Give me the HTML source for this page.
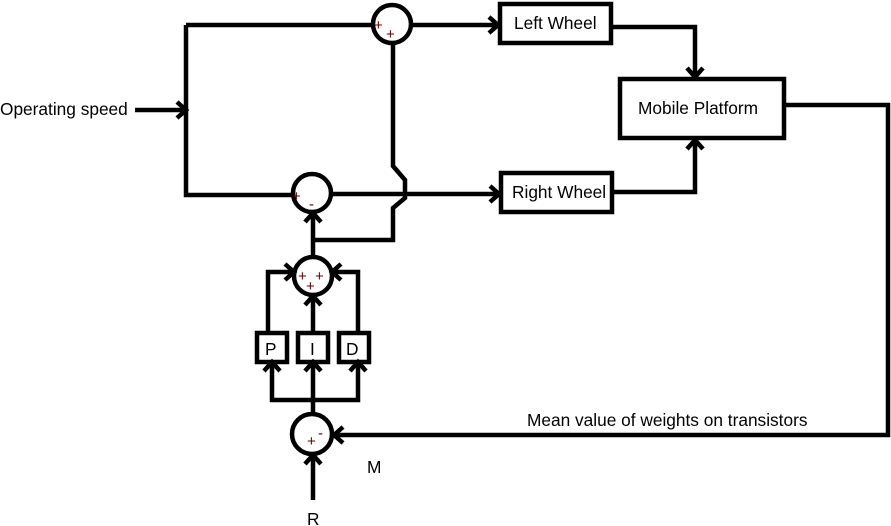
<!DOCTYPE html>
<html><head><style>body{margin:0;background:#fff}svg{display:block}text{font-family:"Liberation Sans",sans-serif}</style></head><body>
<svg width="891" height="526" viewBox="0 0 891 526" xmlns="http://www.w3.org/2000/svg">
<g fill="none" stroke="#000" stroke-width="4.5" stroke-linejoin="miter">
<rect x="500" y="4" width="111" height="39"/>
<rect x="501" y="173" width="111" height="39"/>
<rect x="620" y="79" width="164" height="59"/>
<rect x="257" y="333" width="30" height="29"/>
<rect x="298" y="333" width="30" height="29"/>
<rect x="339" y="333" width="30" height="29"/>
<circle cx="392" cy="24" r="19"/>
<circle cx="312" cy="193" r="19"/>
<circle cx="313" cy="276" r="19"/>
<circle cx="312" cy="434" r="20"/>
<path d="M135 110 H186"/>
<path d="M186 25 V195 H293"/>
<path d="M186 25 H373"/>
<path d="M411 25 H498"/>
<path d="M331 194 H499"/>
<path d="M611 27 H695 V77"/>
<path d="M612 192 H695 V140"/>
<path d="M784 105 H888 V435 H334"/>
<path d="M393 43 V166 L405 180 V198 L393 208 V240 H313"/>
<path d="M313 257 V213"/>
<path d="M272 362 V400 H358 V362"/>
<path d="M313 362 V414"/>
<path d="M313 500 V455"/>
<path d="M313 333 V296"/>
<path d="M268 333 V272 H294"/>
<path d="M358 333 V272 H332"/>
<path d="M177 102 L186 110 L177 118"/>
<path d="M489 17 L498 25 L489 33"/>
<path d="M490 186 L499 194 L490 202"/>
<path d="M687 68 L695 77 L703 68"/>
<path d="M687 149 L695 140 L703 149"/>
<path d="M343 427 L334 435 L343 443"/>
<path d="M305 222 L313 213 L321 222"/>
<path d="M305 305 L313 296 L321 305"/>
<path d="M305 464 L313 455 L321 464"/>
<path d="M264 371 L272 362 L280 371"/>
<path d="M305 371 L313 362 L321 371"/>
<path d="M350 371 L358 362 L366 371"/>
<path d="M285 264 L294 272 L285 280"/>
<path d="M341 264 L332 272 L341 280"/>
</g>
<g font-size="17.3" fill="#000">
<text x="0" y="115">Operating speed</text>
<text x="514" y="29">Left Wheel</text>
<text x="512" y="198">Right Wheel</text>
<text x="638" y="114">Mobile Platform</text>
<text x="265" y="355">P</text>
<text x="310" y="355">I</text>
<text x="346" y="355">D</text>
<text x="527" y="426">Mean value of weights on transistors</text>
<text x="367" y="473">M</text>
<text x="307" y="525">R</text>
</g>
<g font-size="15" fill="#600">
<text x="374" y="30">+</text><text x="386" y="39">+</text>
<text x="292" y="201">+</text><text x="309" y="209">-</text>
<text x="298" y="281">+</text><text x="315" y="281">+</text><text x="306" y="291">+</text>
<text x="307" y="446">+</text><text x="318" y="438">-</text>
</g>
</svg>
</body></html>
